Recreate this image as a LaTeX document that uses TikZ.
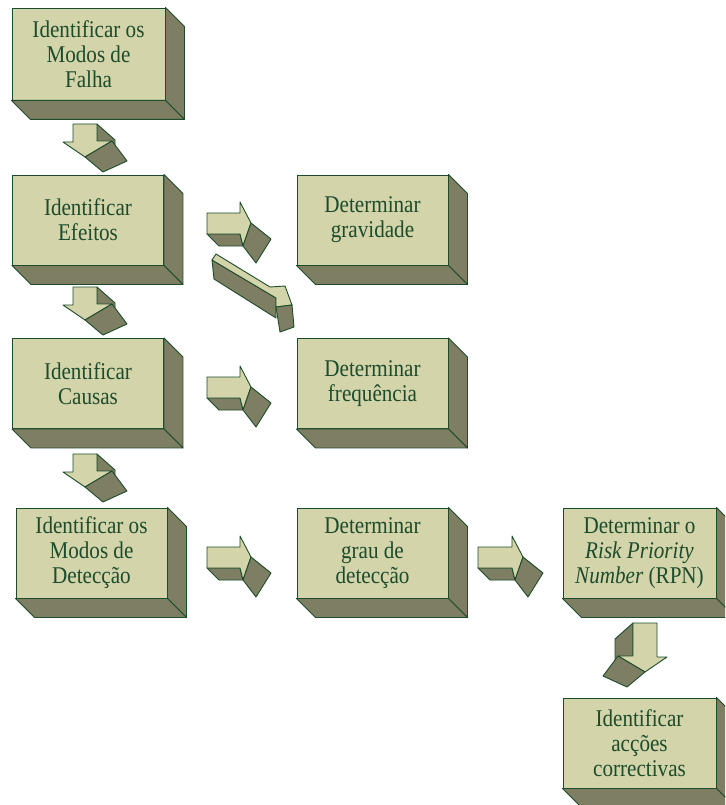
\documentclass[tikz,border=0pt]{standalone}
\usepackage{fontspec}
\setmainfont{Liberation Serif}[FakeStretch=0.88]
\definecolor{lightf}{RGB}{212,212,170}
\definecolor{darkf}{RGB}{126,126,99}
\definecolor{edgec}{RGB}{28,76,44}
\tikzset{
  box/.style={draw=edgec, fill=lightf, line width=0.9pt, minimum width=151pt, minimum height=90pt,
    inner sep=0pt, align=center, text=edgec, font=\fontsize{24}{25}\selectfont},
  side/.style={draw=edgec, fill=darkf, line width=0.9pt, line join=round},
  topf/.style={draw=edgec, fill=lightf, line width=0.9pt, line join=round},
}
\newcommand\boxdepth[1]{%
  \filldraw[side] (#1.north east) -- ++(19,19) -- ([shift={(19,19)}]#1.south east) -- (#1.south east) -- cycle;
  \filldraw[side] (#1.south west) -- (#1.south east) -- ++(19,19) -- ([shift={(19,19)}]#1.south west) -- cycle;}
\newcommand\dnarrow[2]{%
  \begin{scope}[#1]
  \filldraw[side] (24,0) -- (42,16) -- (42,#2+9) -- (24,#2) -- cycle;
  \filldraw[topf] (0,0) -- (24,0) -- (24,#2) -- (39,#2) -- (12,#2+16) -- (-10,#2+1) -- (0,#2+1) -- cycle;
  \filldraw[side] (12,#2+16) -- (39,#2) -- (54,#2+20) -- (30,#2+31) -- cycle;
  \end{scope}}
\newcommand\rtarrow[2]{%
  \begin{scope}[#1]
  \filldraw[side] (0,21) -- (#2,21) -- (#2+3,33) -- (12,33) -- cycle;
  \filldraw[topf] (0,0) -- (#2,0) -- (#2,-11) -- (#2+11,10) -- (#2+3,33) -- (#2,21) -- (0,21) -- cycle;
  \filldraw[side] (#2+11,10) -- (#2+3,33) -- (#2+16,50) -- (#2+31,26) -- cycle;
  \end{scope}}
\begin{document}
\begin{tikzpicture}[x=1pt,y=-1pt]
\path[use as bounding box] (0,0) rectangle (725,805);
\clip (0,0) rectangle (725,805);
\fill[white] (0,0) rectangle (725,805);

\node[box, minimum width=153pt, minimum height=92pt] (b1) at (88.5,54) {Identificar os\\Modos de\\Falha};
\node[box] (b2) at (88,220) {Identificar\\Efeitos};
\node[box] (b3) at (88,383.5) {Identificar\\Causas};
\node[box] (b4) at (91.5,553) {Identificar os\\Modos de\\Detecção};
\node[box] (g) at (372.5,220) {Determinar\\gravidade};
\node[box] (f) at (372.5,383.5) {Determinar\\frequência};
\node[box] (d) at (372.5,553) {Determinar\\grau de\\detecção};
\node[box, minimum width=153pt] (r) at (639.5,553) {Determinar o\\\textit{Risk Priority}\\\textit{Number} (RPN)};
\node[box, minimum width=153pt] (a) at (639.5,743) {Identificar\\acções\\correctivas};
\foreach \n in {b1,b2,b3,b4,g,f,d,r,a} {\boxdepth{\n}}

% down arrows
\dnarrow{shift={(73,124)}}{17}
\dnarrow{shift={(73,287)}}{17}
\dnarrow{shift={(73,454)}}{17}
\dnarrow{shift={(657,623)},xscale=-1}{33}

% right arrows
\rtarrow{shift={(207,213)}}{33}
\rtarrow{shift={(207,377)}}{33}
\rtarrow{shift={(207,547)}}{33}
\rtarrow{shift={(478,547)}}{34}

% diagonal arrow (Efeitos -> frequencia)
\filldraw[side] (212,260) -- (214,279) -- (276,318) -- (276,298) -- cycle;
\filldraw[topf] (212,260) -- (216,254) -- (270,287) -- (285,286) -- (292,305) -- (276,307) -- (276,298) -- cycle;
\filldraw[side] (276,307) -- (292,305) -- (294,327) -- (280,332) -- cycle;
\end{tikzpicture}
\end{document}
